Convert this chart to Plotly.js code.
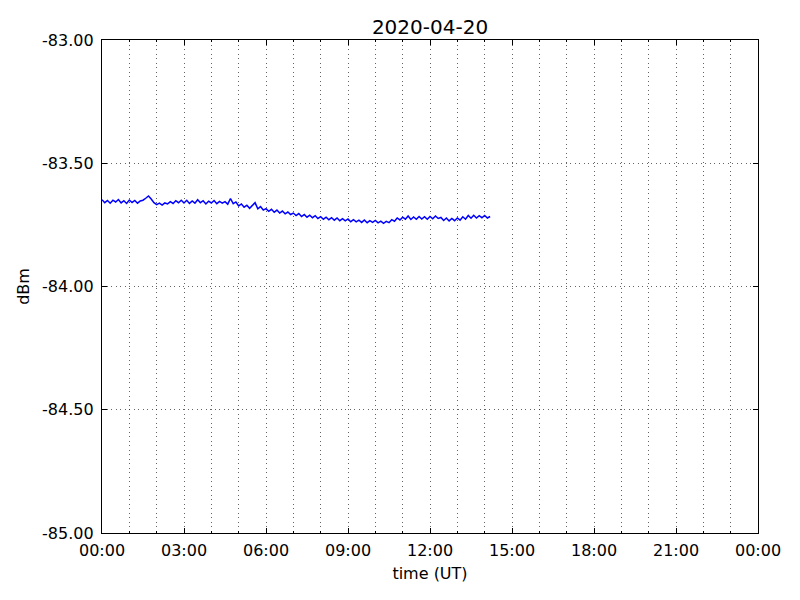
<!DOCTYPE html>
<html>
<head>
<meta charset="utf-8">
<script src="https://cdn.plot.ly/plotly-3.0.1.min.js"></script>
<style>html,body{margin:0;padding:0;background:#fff}#chart{width:800px;height:600px}</style>
</head>
<body>
<div id="chart"></div>
<script>
// Signal level (dBm), sampled every 6 minutes from 00:00 UT
const startTime = '2020-04-20 00:00:00';
const stepMs = 6 * 60 * 1000;
const dBm = [
  -83.648, -83.660, -83.651, -83.662, -83.650, -83.657, -83.647, -83.661, -83.652, -83.663,
  -83.649, -83.659, -83.651, -83.662, -83.653,
  -83.650, -83.642, -83.633, -83.645,
  -83.660, -83.668, -83.662, -83.670, -83.661,
  -83.665, -83.656, -83.663, -83.652, -83.660, -83.650,
  -83.661, -83.650, -83.663, -83.653, -83.662, -83.648, -83.660, -83.652, -83.665, -83.654,
  -83.661, -83.651, -83.664, -83.655, -83.662,
  -83.656, -83.666, -83.643, -83.664, -83.657,
  -83.673, -83.665, -83.678, -83.670, -83.683, -83.672, -83.660, -83.685, -83.676, -83.690,
  -83.684, -83.695, -83.687, -83.699, -83.690, -83.702, -83.694, -83.705, -83.698, -83.708,
  -83.702, -83.712, -83.704, -83.716, -83.708, -83.719, -83.711, -83.721, -83.713, -83.724,
  -83.717, -83.727, -83.719, -83.729, -83.721, -83.731, -83.722, -83.733, -83.725, -83.734,
  -83.726, -83.737, -83.729, -83.738, -83.731, -83.740, -83.730, -83.741, -83.733, -83.740,
  -83.732, -83.742, -83.735, -83.744, -83.736, -83.741, -83.729, -83.735, -83.722, -83.730,
  -83.719, -83.727, -83.714, -83.728, -83.718, -83.727, -83.716, -83.726, -83.717, -83.727,
  -83.716, -83.725, -83.714, -83.724, -83.720, -83.732, -83.722, -83.734, -83.724, -83.733,
  -83.722, -83.731, -83.717, -83.727, -83.712, -83.723, -83.711, -83.722, -83.713, -83.721,
  -83.712, -83.722, -83.716
];
const yTickVals = [-85, -84.5, -84, -83.5, -83];
const yTickText = ['-85.00', '-84.50', '-84.00', '-83.50', '-83.00'];
const xRange = ['2020-04-20 00:00', '2020-04-21 00:00'];
const titleText = '2020-04-20';

const font = {family: 'DejaVu Sans', size: 16, color: '#000'};
const gridDash = '1px,3.5px';
const gridColor = '#222';

const trace = {
  type: 'scatter', mode: 'lines',
  x0: startTime, dx: stepMs, y: dBm,
  line: {color: '#0000ff', width: 1.5},
  hoverinfo: 'skip'
};

const layout = {
  width: 800, height: 600,
  margin: {l: 102, r: 42, t: 40, b: 67},
  paper_bgcolor: '#fff', plot_bgcolor: '#fff',
  font: font,
  showlegend: false,
  title: {text: titleText, font: {family: 'DejaVu Sans', size: 20, color: '#000'},
          x: 0.5, xref: 'paper', y: 1 - 27/600, yref: 'container', yanchor: 'middle'},
  xaxis: {
    type: 'date', range: xRange,
    dtick: 3 * 3600 * 1000, tick0: '2020-04-20 00:00', tickformat: '%H:%M',
    showline: true, linecolor: '#000', linewidth: 1.2, mirror: 'ticks',
    ticks: 'inside', ticklen: 5, tickcolor: '#000', tickwidth: 1,
    showgrid: true, gridcolor: gridColor, gridwidth: 0.7, griddash: gridDash,
    minor: {dtick: 3600 * 1000, showgrid: true, gridcolor: gridColor, gridwidth: 0.7, griddash: gridDash,
            ticks: 'inside', ticklen: 2, tickcolor: '#000'},
    zeroline: false, ticklabelstandoff: 3,
    tickfont: font,
    title: {text: 'time (UT)', font: font, standoff: 8},
    automargin: false, fixedrange: true
  },
  yaxis: {
    range: [-85, -83],
    tickvals: yTickVals, ticktext: yTickText,
    showline: true, linecolor: '#000', linewidth: 1.2, mirror: 'ticks',
    ticks: 'inside', ticklen: 5, tickcolor: '#000', tickwidth: 1,
    showgrid: true, gridcolor: gridColor, gridwidth: 0.7, griddash: gridDash,
    zeroline: false, ticklabelstandoff: 4,
    tickfont: font,
    title: {text: 'dBm', font: font, standoff: 8},
    automargin: false, fixedrange: true
  }
};

Plotly.newPlot('chart', [trace], layout, {staticPlot: true, displayModeBar: false});
</script>
</body>
</html>
